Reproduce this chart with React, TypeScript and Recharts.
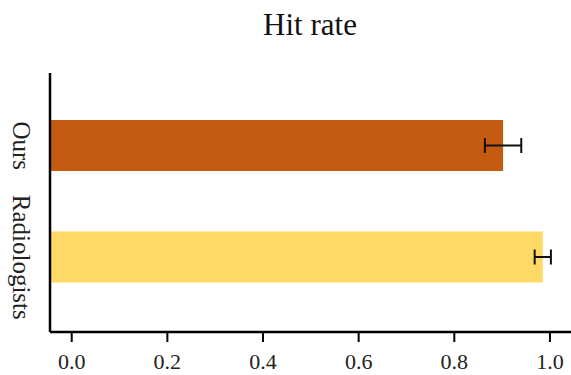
import { BarChart, Bar, XAxis, YAxis, ErrorBar, Cell } from "recharts";

// values
const groups = ["Ours", "Radiologists"];
const hitRate = [0.902, 0.985];
const hitErr = [0.038, 0.017];
const barColors = ["#C55A11", "#FFD966"];
const xTicks = [0, 0.2, 0.4, 0.6, 0.8, 1.0];

const X_MIN = -0.0454;
const X_MAX = 1.044;

const data = groups.map((name, i) => ({
  name,
  value: hitRate[i],
  err: hitErr[i],
}));

const FONT = "'Liberation Serif', 'Times New Roman', serif";

const GroupTick = (props: any) => {
  const { y, payload } = props;
  return (
    <text
      x={21}
      y={y}
      transform={`rotate(90, 21, ${y})`}
      textAnchor="middle"
      dominantBaseline="central"
      fontFamily={FONT}
      fontSize={25}
      fill="#222"
    >
      {payload.value}
    </text>
  );
};

export default function App() {
  return (
    <div style={{ position: "absolute", left: 0, top: 0, width: 571, height: 375, background: "#fff" }}>
      <div
        style={{
          position: "absolute",
          left: 0,
          width: 620,
          top: 7,
          textAlign: "center",
          fontFamily: FONT,
          fontSize: 31,
          color: "#111",
        }}
      >
        Hit rate
      </div>
      <BarChart
        width={571}
        height={375}
        data={data}
        layout="vertical"
        margin={{ top: 73, right: 0, left: 0, bottom: 0 }}
      >
        <XAxis
          type="number"
          domain={[X_MIN, X_MAX]}
          ticks={xTicks}
          allowDataOverflow
          tickFormatter={(v: number) => v.toFixed(1)}
          height={43}
          tickSize={10}
          tickMargin={11}
          axisLine={{ stroke: "#000", strokeWidth: 2.5 }}
          tickLine={{ stroke: "#000", strokeWidth: 2 }}
          tick={{ fill: "#222", fontSize: 22, fontFamily: FONT }}
        />
        <YAxis
          type="category"
          dataKey="name"
          width={50}
          padding={{ top: 17, bottom: 19 }}
          axisLine={{ stroke: "#000", strokeWidth: 2.5 }}
          tickLine={false}
          tick={<GroupTick />}
        />
        <Bar
          dataKey={(d: any) => [X_MIN, d.value]}
          barSize={51}
          isAnimationActive={false}
        >
          {data.map((d, i) => (
            <Cell key={d.name} fill={barColors[i]} />
          ))}
          <ErrorBar dataKey="err" direction="x" width={7.5} stroke="#111" strokeWidth={2} />
        </Bar>
      </BarChart>
    </div>
  );
}
